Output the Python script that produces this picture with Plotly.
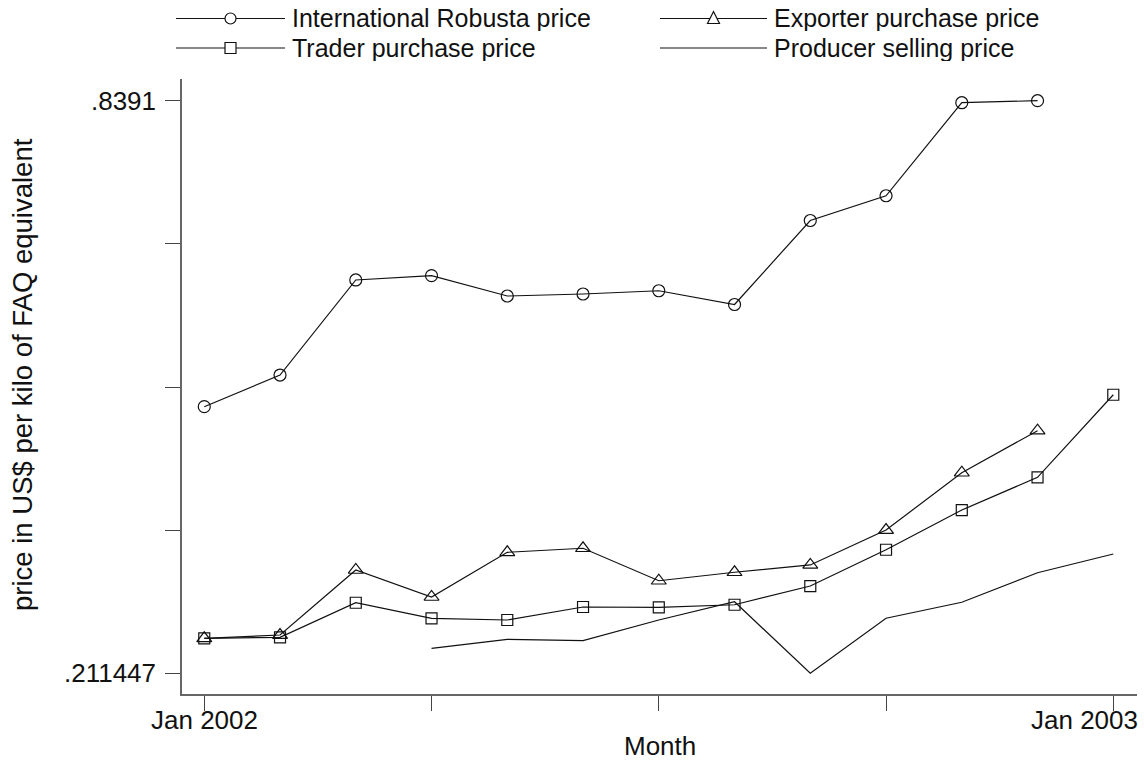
import numpy as np
import plotly.graph_objects as go

# Monthly prices, US$ per kilo of FAQ equivalent (month index 0 = Jan 2002)
months_robusta = list(range(0, 12))
robusta = [0.5037, 0.5384, 0.6426, 0.6473, 0.6250, 0.6272, 0.6308, 0.6157,
           0.7078, 0.7349, 0.8369, 0.8391]

months_exporter = list(range(0, 12))
exporter = [0.2498, 0.2534, 0.3247, 0.2951, 0.3441, 0.3485, 0.3129, 0.3222,
            0.3302, 0.3685, 0.4313, 0.4774]

months_trader = list(range(0, 13))
trader = [0.2498, 0.2509, 0.2888, 0.2717, 0.2699, 0.2841, 0.2838, 0.2866,
          0.3071, 0.3469, 0.3904, 0.4263, 0.5168]

months_producer = list(range(3, 13))
producer = [0.2388, 0.2487, 0.2472, 0.2699, 0.2899, 0.211447, 0.2718,
            0.2893, 0.3217, 0.3422]

x_tick_vals = [0, 3, 6, 9, 12]
x_tick_labels = {0: "Jan 2002", 12: "Jan 2003"}

series_names = ["International Robusta price", "Exporter purchase price",
                "Trader purchase price", "Producer selling price"]

# y ticks: five evenly spaced ticks between data min and max, only ends labelled
all_vals = robusta + exporter + trader + producer
y_min, y_max = min(all_vals), max(all_vals)
y_tick_vals = list(np.linspace(y_min, y_max, 5))
y_tick_text = [".211447", "", "", "", ".8391"]

FONT = "Liberation Sans, Arial, sans-serif"
INK = "#111111"
W, H = 1144, 761
L, R, T, B = 182, 7, 79, 67

fig = go.Figure()

line_style = dict(color=INK, width=1.2)
fig.add_trace(go.Scatter(x=months_robusta, y=robusta, mode="lines+markers",
                         name=series_names[0], line=line_style,
                         marker=dict(symbol="circle-open", size=12,
                                     color=INK, line=dict(width=1.2))))
fig.add_trace(go.Scatter(x=months_exporter, y=exporter, mode="lines+markers",
                         name=series_names[1], line=line_style,
                         marker=dict(symbol="triangle-up-open", size=13,
                                     color=INK, line=dict(width=1.2))))
fig.add_trace(go.Scatter(x=months_trader, y=trader, mode="lines+markers",
                         name=series_names[2], line=line_style,
                         marker=dict(symbol="square-open", size=11,
                                     color=INK, line=dict(width=1.2))))
fig.add_trace(go.Scatter(x=months_producer, y=producer, mode="lines",
                         name=series_names[3], line=line_style))

# Legend drawn as a two-column key above the plot
pw, ph = W - L - R, H - T - B


def px(xp):
    return (xp - L) / pw


def py(yp):
    return (H - B - yp) / ph


shapes = []
annotations = []
legend_items = [
    (series_names[0], "circle", 176, 285, 18.5),
    (series_names[1], "triangle", 660, 767, 18.5),
    (series_names[2], "square", 176, 285, 48),
    (series_names[3], None, 660, 767, 48),
]
for name, sym, x0, x1, yc in legend_items:
    shapes.append(dict(type="line", xref="paper", yref="paper",
                       x0=px(x0), x1=px(x1), y0=py(yc), y1=py(yc),
                       line=dict(color=INK, width=1.2)))
    cx = (x0 + x1) / 2
    r = 5.5
    if sym == "circle":
        shapes.append(dict(type="circle", xref="paper", yref="paper",
                           x0=px(cx - r), x1=px(cx + r),
                           y0=py(yc + r), y1=py(yc - r),
                           fillcolor="white", line=dict(color=INK, width=1.2)))
    elif sym == "square":
        shapes.append(dict(type="rect", xref="paper", yref="paper",
                           x0=px(cx - r), x1=px(cx + r),
                           y0=py(yc + r), y1=py(yc - r),
                           fillcolor="white", line=dict(color=INK, width=1.2)))
    elif sym == "triangle":
        path = "M {} {} L {} {} L {} {} Z".format(
            px(cx - 6), py(yc + 5), px(cx + 6), py(yc + 5), px(cx), py(yc - 7))
        shapes.append(dict(type="path", xref="paper", yref="paper", path=path,
                           fillcolor="white", line=dict(color=INK, width=1.2)))
    annotations.append(dict(text=name, xref="paper", yref="paper",
                            x=px(x1 + 6), y=py(yc), xanchor="left",
                            yanchor="middle", showarrow=False,
                            height=26, borderpad=0, valign="middle",
                            font=dict(family=FONT, size=25, color=INK)))

# Month labels under the end ticks; the last one is kept inside the page
for m, label in x_tick_labels.items():
    if m == x_tick_vals[-1]:
        annotations.append(dict(text=label, xref="paper", yref="paper",
                                x=px(1140), y=py(720), xanchor="right",
                                yanchor="middle", showarrow=False,
                                font=dict(family=FONT, size=26, color=INK)))
    else:
        annotations.append(dict(text=label, xref="x", yref="paper",
                                x=m, y=py(720), xanchor="center",
                                yanchor="middle", showarrow=False,
                                font=dict(family=FONT, size=26, color=INK)))

# Axis titles
annotations.append(dict(text="Month", xref="paper", yref="paper",
                        x=0.5, y=py(746), xanchor="center", yanchor="middle",
                        showarrow=False,
                        font=dict(family=FONT, size=26, color=INK)))
annotations.append(dict(text="price in US$ per kilo of FAQ equivalent",
                        xref="paper", yref="paper", x=px(22), y=py(375),
                        xanchor="center", yanchor="middle", textangle=-90,
                        showarrow=False,
                        font=dict(family=FONT, size=27.5, color=INK)))

axis_common = dict(showgrid=False, zeroline=False, showline=True,
                   linecolor="#666666", linewidth=1.5, ticks="outside",
                   ticklen=15, tickwidth=1.2, tickcolor="#444444",
                   tickfont=dict(family=FONT, size=26, color=INK),
                   mirror=False)

fig.update_layout(
    width=W, height=H,
    margin=dict(l=L, r=R, t=T, b=B, pad=0),
    paper_bgcolor="white", plot_bgcolor="white",
    showlegend=False,
    shapes=shapes, annotations=annotations,
    xaxis=dict(range=[-0.294, 12.313], tickmode="array",
               tickvals=x_tick_vals, ticktext=[""] * len(x_tick_vals),
               **axis_common),
    yaxis=dict(range=[0.18876, 0.86289], tickmode="array",
               tickvals=y_tick_vals, ticktext=y_tick_text,
               ticklabelstandoff=4, **axis_common),
)

fig.write_html("out.html")
